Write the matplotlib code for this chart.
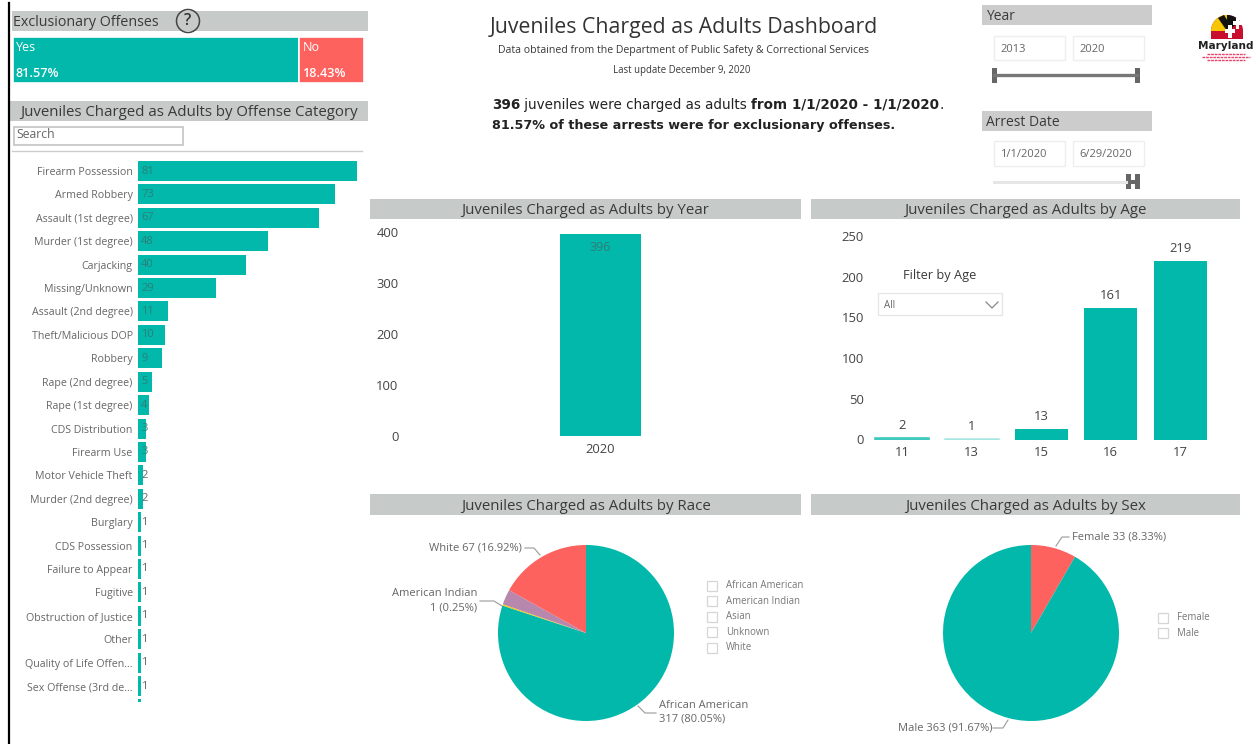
# Juveniles charged as adults dashboard, laid out on a pixel grid
import matplotlib
matplotlib.use("Agg")
import matplotlib.pyplot as plt
from matplotlib.patches import Rectangle, Circle, Wedge, Polygon

W, H = 1257, 744

offenses = ["Firearm Possession", "Armed Robbery", "Assault (1st degree)", "Murder (1st degree)",
            "Carjacking", "Missing/Unknown", "Assault (2nd degree)", "Theft/Malicious DOP",
            "Robbery", "Rape (2nd degree)", "Rape (1st degree)", "CDS Distribution", "Firearm Use",
            "Motor Vehicle Theft", "Murder (2nd degree)", "Burglary", "CDS Possession",
            "Failure to Appear", "Fugitive", "Obstruction of Justice", "Other",
            "Quality of Life Offen...", "Sex Offense (3rd de...", ""]
offense_counts = [81, 73, 67, 48, 40, 29, 11, 10, 9, 5, 4, 3, 3, 2, 2, 1, 1, 1, 1, 1, 1, 1, 1, 1]

excl_labels = ["Yes", "No"]
excl_pct = [81.57, 18.43]

years = ["2020"]
year_counts = [396]

ages = ["11", "13", "15", "16", "17"]
age_counts = [2, 1, 13, 161, 219]

races = ["African American", "American Indian", "Asian", "Unknown", "White"]
race_counts = [317, 1, 0, 11, 67]

sexes = ["Female", "Male"]
sex_counts = [33, 363]

TEAL = "#01B8AA"
CORAL = "#FD625E"
YELLOW = "#F2C80F"
PURPLE = "#B887AD"
HEADER = "#C6CAC9"
GREY = "#666666"
DARK = "#3A3A3A"
LABEL_IN_BAR = "#2E7F78"

plt.rcParams["font.family"] = ["Open Sans", "DejaVu Sans"]

fig = plt.figure(figsize=(W / 100, H / 100), dpi=100)
page = fig.add_axes([0, 0, 1, 1])
page.set_xlim(0, W)
page.set_ylim(H, 0)
page.axis("off")


def px_axes(x0, y0, x1, y1):
    # axes from a pixel box, y measured from the top
    ax = fig.add_axes([x0 / W, 1 - y1 / H, (x1 - x0) / W, (y1 - y0) / H])
    ax.patch.set_alpha(0)
    return ax


def clean(ax):
    for s in ax.spines.values():
        s.set_visible(False)


def box(x0, y0, x1, y1, fc="none", ec="none", lw=1.0, z=1):
    page.add_patch(Rectangle((x0, y0), x1 - x0, y1 - y0, facecolor=fc, edgecolor=ec, linewidth=lw, zorder=z))


def header(x0, y0, x1, y1, txt, tx=None, size=10.8, fc=HEADER):
    box(x0, y0, x1, y1, fc=fc)
    y = (y0 + y1) / 2 + 1.5
    if tx is None:
        page.text((x0 + x1) / 2, y, txt, ha="center", va="center", fontsize=size, color=DARK)
    else:
        page.text(tx, y, txt, ha="left", va="center", fontsize=size, color=DARK)


# left page border
page.plot([9, 9], [3, 744], color="black", lw=1.6)

# exclusionary offenses
header(12, 11, 368, 31, "Exclusionary Offenses", tx=13, size=10.3)
page.add_patch(Circle((188, 21), 11.5, facecolor="none", edgecolor="#444444", lw=1.1, zorder=3))
page.text(188, 21, "?", ha="center", va="center", fontsize=11.5, fontweight="semibold", color="#333333", zorder=4)

ax = px_axes(12.5, 37, 364, 83)
clean(ax)
ax.barh([0], [excl_pct[0]], height=1, color=TEAL, edgecolor="white", linewidth=1.2)
ax.barh([0], [excl_pct[1]], left=[excl_pct[0]], height=1, color=CORAL, edgecolor="white", linewidth=1.2)
ax.set_xlim(0, sum(excl_pct))
ax.set_ylim(-0.5, 0.5)
ax.set_xticks([])
ax.set_yticks([])
left = 0
for lab, val in zip(excl_labels, excl_pct):
    ax.annotate(lab, (left, 0.5), xytext=(2.2, -7.5), textcoords="offset points", color="white", fontsize=9, va="center")
    ax.annotate("%.2f%%" % val, (left, -0.5), xytext=(2.2, 6.5), textcoords="offset points", color="white", fontsize=9.2, va="center", fontweight="semibold")
    left += val

# offense category bars
header(10, 101, 368, 121, "Juveniles Charged as Adults by Offense Category")
box(13.5, 126.5, 183, 145, fc="white", ec="#C4C4C4", lw=1.2)
page.text(16, 135, "Search", va="center", fontsize=8.8, color=GREY)
page.plot([12, 362], [151, 151], color="#CCCCCC", lw=1)

row = 23.41
ax = px_axes(138, 160, 380, 702)
clean(ax)
pos = list(range(len(offenses)))
ax.barh(pos, offense_counts, height=20 / row, color=TEAL)
ax.set_xticks([])
ax.set_yticks(pos)
ax.set_yticklabels(offenses, fontsize=7.7, color=GREY)
ax.set_xlim(0, 242 / 2.70)
ax.set_ylim((702 - 171) / row, (160 - 171) / row)
ax.tick_params(axis="y", length=0, pad=3.8)
for p, val, name in zip(pos, offense_counts, offenses):
    if name:
        col = LABEL_IN_BAR if val > 2 else GREY
        ax.annotate(str(val), (0, p), xytext=(2.2, 0), textcoords="offset points", fontsize=8, va="center", color=col)

# title block
page.text(684, 27, "Juveniles Charged as Adults Dashboard", ha="center", va="center", fontsize=15.3, color="#333333")
page.text(684, 51, "Data obtained from the Department of Public Safety & Correctional Services", ha="center", va="center", fontsize=7.55, color=DARK)
page.text(682, 71, "Last update December 9, 2020", ha="center", va="center", fontsize=6.9, color=DARK)

t = page.text(492, 105, "396", va="center", fontsize=9.75, fontweight="bold", color="#222222", family="DejaVu Sans")
t = page.annotate(" juveniles were charged as adults ", xy=(1, 0), xycoords=t, va="bottom", fontsize=9.75, color="#222222", family="DejaVu Sans")
t = page.annotate("from 1/1/2020 - 1/1/2020", xy=(1, 0), xycoords=t, va="bottom", fontsize=9.75, fontweight="bold", color="#222222", family="DejaVu Sans")
page.annotate(".", xy=(1, 0), xycoords=t, va="bottom", fontsize=9.75, color="#222222", family="DejaVu Sans")
page.text(492, 126, "81.57% of these arrests were for exclusionary offenses.", va="center", fontsize=9.2, fontweight="bold", color="#222222", family="DejaVu Sans")

# slicers
header(982, 5, 1152, 25, "Year", tx=986, size=10, fc="#CCCCCC")
header(982, 111, 1152, 131, "Arrest Date", tx=986, size=10, fc="#CCCCCC")
for x0, x1, y0, y1, txt in [(994, 1065, 36, 60, "2013"), (1073, 1144, 36, 60, "2020"),
                            (994, 1065, 141, 166, "1/1/2020"), (1073, 1144, 141, 166, "6/29/2020")]:
    box(x0, y0, x1, y1, fc="white", ec="#EEEEEE", lw=1)
    page.text(x0 + 6.5, (y0 + y1) / 2 + 1, txt, ha="left", va="center", fontsize=8, color=GREY)
page.plot([994, 1137], [75, 75], color="#777777", lw=2.4)
box(992, 68, 997, 83, fc="#666666")
box(1135, 68, 1140, 83, fc="#666666")
page.plot([994, 1126], [181.5, 181.5], color="#E6E6E6", lw=2.2)
box(1126, 174, 1131, 189, fc="#666666")
box(1135, 174, 1140, 189, fc="#666666")
box(1130, 180, 1136, 184, fc="#666666")

# logo
page.add_patch(Wedge((1227, 31), 16, 180, 360, facecolor="#C8102E", zorder=2))
page.add_patch(Wedge((1227, 31), 16, 180, 270, facecolor="#F7C600", zorder=3))
page.add_patch(Polygon([(1218, 18), (1224, 15), (1234, 31), (1227, 31)], facecolor="#111111", zorder=4))
page.add_patch(Wedge((1227, 31), 16, 270, 325, facecolor="#111111", zorder=3))
box(1211, 31, 1243, 39, fc="#C8102E", z=3)
box(1225, 29, 1235, 33, fc="white", z=5)
box(1228, 25, 1232, 38, fc="white", z=5)
box(1233, 21, 1242, 25, fc="white", z=5)
box(1236, 18, 1239, 29, fc="white", z=5)
page.text(1226, 46, "Maryland", ha="center", va="center", fontsize=7.6, fontweight="bold", color="#222222", family="DejaVu Sans")
for yy, x0, x1 in [(54, 1207, 1245), (57, 1202, 1250), (60, 1207, 1245)]:
    page.plot([x0, x1], [yy, yy], color="#E8436B", lw=1, ls=(0, (2, 0.6)))

# by year
header(370, 199, 801, 219, "Juveniles Charged as Adults by Year")
ax = px_axes(400, 225, 800, 436)
clean(ax)
ax.bar(years, year_counts, width=81 / 400, color=TEAL)
ax.set_xlim(-0.5, 0.5)
ax.set_ylim(0, 211 / 0.51)
ax.set_yticks([0, 100, 200, 300, 400])
ax.tick_params(axis="both", length=0, labelsize=9.4, labelcolor="#444444")
ax.tick_params(axis="x", pad=5)
ax.tick_params(axis="y", pad=1)
for i, val in enumerate(year_counts):
    ax.annotate(str(val), (i, val), xytext=(0, -10), textcoords="offset points", ha="center", va="center", fontsize=9, color=LABEL_IN_BAR)

# by age
header(811, 199, 1240, 219, "Juveniles Charged as Adults by Age")
ax = px_axes(868, 225, 1215, 439.5)
clean(ax)
age_bars = ax.bar(range(len(ages)), age_counts, width=53 / 69.5, color=TEAL)
age_bars[0].set(color="#40C9BE", linewidth=1.2)
age_bars[1].set(color="#A6E6E0", linewidth=1.8)
ax.set_xticks(range(len(ages)))
ax.set_xticklabels(ages)
ax.set_yticks([0, 50, 100, 150, 200, 250])
ax.set_xlim(-0.489, 4.5)
ax.set_ylim(0, 214.5 / 0.815)
ax.tick_params(axis="both", length=0, labelsize=9.4, labelcolor="#444444")
ax.tick_params(axis="x", pad=4.5)
ax.tick_params(axis="y", pad=3)
for i, val in enumerate(age_counts):
    ax.annotate(str(val), (i, val), xytext=(0, 9), textcoords="offset points", ha="center", va="center", fontsize=9.4, color="#444444")

page.text(940, 275, "Filter by Age", ha="center", va="center", fontsize=9.2, color=DARK)
box(878, 293, 1002, 315, fc="white", ec="#E6E6E6", lw=1)
page.text(884, 305, "All", va="center", fontsize=7, color=GREY)
page.plot([986, 992, 998], [302, 308, 302], color="#888888", lw=0.9)


def legend(x, y0, names):
    for i, name in enumerate(names):
        yy = y0 + 15.4 * i
        box(x, yy - 5, x + 10, yy + 5, fc="white", ec="#D6D6D6", lw=0.9)
        page.text(x + 19, yy, name, va="center", fontsize=6.9, color="#777777")


def pie(cx, cy, r, vals, cols):
    ax = px_axes(cx - r, cy - r, cx + r, cy + r)
    ax.pie(vals, colors=cols, startangle=90, counterclock=False, radius=1, wedgeprops={"linewidth": 0})
    ax.set_xlim(-1, 1)
    ax.set_ylim(-1, 1)


# by race
header(370, 494, 801, 515, "Juveniles Charged as Adults by Race")
pie(586, 633, 88, race_counts, [TEAL, YELLOW, "#374649", PURPLE, CORAL])
legend(707, 586, races)
page.text(522, 548, "White %d (%.2f%%)" % (race_counts[4], 100 * race_counts[4] / sum(race_counts)), ha="right", va="center", fontsize=8, color=GREY)
page.plot([525, 534, 540], [548, 548, 555], color="#999999", lw=0.8)
page.text(477, 594, races[1], ha="right", va="center", fontsize=8, color=GREY)
page.text(477, 608, "%d (%.2f%%)" % (race_counts[1], 100 * race_counts[1] / sum(race_counts)), ha="right", va="center", fontsize=8, color=GREY)
page.plot([480, 494, 502], [601, 601, 606], color="#999999", lw=0.8)
page.text(659, 705, races[0], va="center", fontsize=8, color=GREY)
page.text(659, 719, "%d (%.2f%%)" % (race_counts[0], 100 * race_counts[0] / sum(race_counts)), va="center", fontsize=8, color=GREY)
page.plot([638, 645, 656], [706, 713, 713], color="#999999", lw=0.8)

# by sex
header(811, 494, 1240, 515, "Juveniles Charged as Adults by Sex")
pie(1031, 633, 88, sex_counts, [CORAL, TEAL])
legend(1158, 618, sexes)
page.text(1072, 537, "%s %d (%.2f%%)" % (sexes[0], sex_counts[0], 100 * sex_counts[0] / sum(sex_counts)), va="center", fontsize=8, color=GREY)
page.plot([1056, 1062, 1069], [546, 537, 537], color="#999999", lw=0.8)
page.text(898, 728, "%s %d (%.2f%%)" % (sexes[1], sex_counts[1], 100 * sex_counts[1] / sum(sex_counts)), va="center", fontsize=8, color=GREY)
page.plot([993, 1003, 1008], [728, 728, 720], color="#999999", lw=0.8)

fig.savefig("out.png", dpi=100)
